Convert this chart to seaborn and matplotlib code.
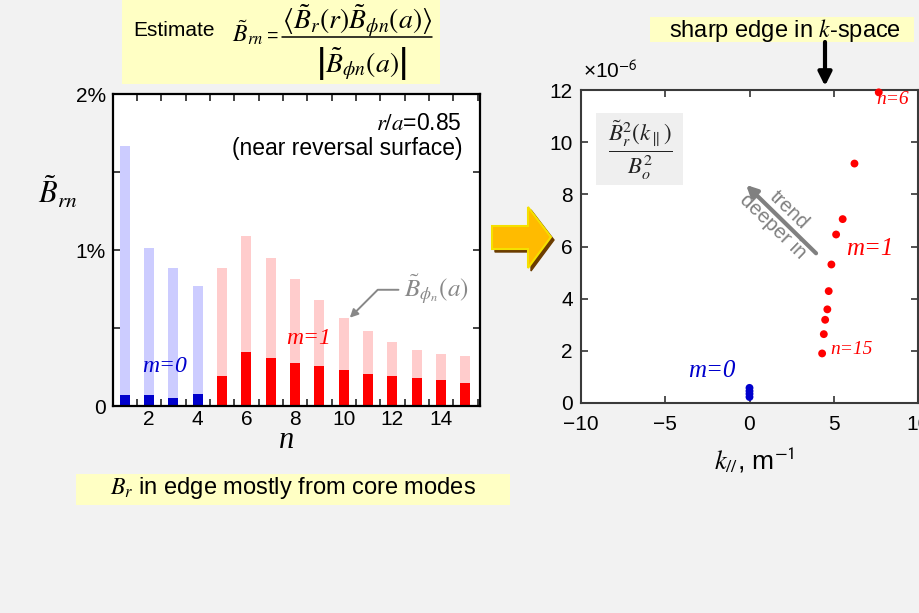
import matplotlib
matplotlib.use("Agg")
import matplotlib.pyplot as plt
import numpy as np
import pandas as pd
import seaborn as sns
from matplotlib.patches import Rectangle, Polygon, FancyArrowPatch
from matplotlib.lines import Line2D

# ---- data -------------------------------------------------------------
n_modes = list(range(1, 16))
m_of_n = ["m=0"] * 4 + ["m=1"] * 11
# toroidal edge amplitude |B_phi,n(a)| (percent)
b_phi_edge = [1.667, 1.013, 0.885, 0.769, 0.885, 1.092, 0.949, 0.814,
              0.679, 0.564, 0.481, 0.410, 0.359, 0.333, 0.321]
# coherent radial part B_rn at r/a = 0.85 (percent)
b_r_coherent = [0.070, 0.070, 0.051, 0.077, 0.194, 0.346, 0.310, 0.276,
                0.256, 0.231, 0.205, 0.194, 0.179, 0.167, 0.147]

# spectrum in k_parallel (units of 1e-6)
k_par_m1 = [7.67, 6.23, 5.53, 5.14, 4.86, 4.70, 4.62, 4.49, 4.41, 4.31]
power_m1 = [11.91, 9.18, 7.05, 6.46, 5.31, 4.29, 3.59, 3.19, 2.64, 1.90]
k_par_m0 = [0.0, 0.0, 0.0, 0.0]
power_m0 = [0.58, 0.46, 0.35, 0.23]

y_ticks_left = [0, 1, 2]
y_ticklabels_left = ["0", "1%", "2%"]
x_ticks_left = [2, 4, 6, 8, 10, 12, 14]
x_ticks_right = [-10, -5, 0, 5, 10]
x_ticklabels_right = ["\u221210", "\u22125", "0", "5", "10"]
y_ticks_right = [0, 2, 4, 6, 8, 10, 12]

# ---- style ------------------------------------------------------------
sns.set_style("white")
plt.rcParams["font.family"] = ["Liberation Sans", "DejaVu Sans"]
plt.rcParams["mathtext.fontset"] = "stix"
for key in ("text.color", "axes.labelcolor", "xtick.color", "ytick.color"):
    plt.rcParams[key] = "black"

BG = "#f2f2f2"
YEL = "#ffffc4"
W, H = 919, 613
fig = plt.figure(figsize=(W / 100, H / 100), dpi=100, facecolor=BG)


def fx(x):
    return x / W


def fy(y):
    return 1 - y / H


def ftext(x, y, s, **kw):
    kw.setdefault("ha", "center")
    kw.setdefault("va", "center")
    return fig.text(fx(x), fy(y), s, **kw)


SERIF_IT = dict(family="Liberation Serif", style="italic")
TICK_FS = 15

# ---- left panel: mode amplitudes -------------------------------------
axL = fig.add_axes([fx(113), fy(406), fx(480) - fx(113), fy(94) - fy(406)])
axL.set_facecolor("white")
bars = pd.DataFrame({"n": n_modes, "m": m_of_n,
                     "phi": b_phi_edge, "r": b_r_coherent})
sns.barplot(data=bars, x="n", y="phi", hue="m", native_scale=True,
            palette={"m=0": "#ccccff", "m=1": "#ffcccc"}, width=0.41,
            dodge=False, errorbar=None, legend=False, saturation=1,
            linewidth=0, ax=axL)
sns.barplot(data=bars, x="n", y="r", hue="m", native_scale=True,
            palette={"m=0": "#0000cc", "m=1": "#ff0000"}, width=0.41,
            dodge=False, errorbar=None, legend=False, saturation=1,
            linewidth=0, ax=axL)
axL.set_xlim(0.52, 15.6)
axL.set_ylim(0, 2)
axL.set_xlabel("")
axL.set_ylabel("")
axL.set_xticks(x_ticks_left)
axL.set_xticks(np.arange(1.5, 15.6, 1.0), minor=True)
axL.set_yticks(y_ticks_left)
axL.set_yticklabels(y_ticklabels_left)
axL.set_yticks([0.5, 1.5], minor=True)
axL.tick_params(axis="x", which="major", length=0, pad=3, labelsize=TICK_FS)
axL.tick_params(axis="x", which="minor", direction="in", length=5,
                width=1.2, top=True, bottom=True, color="#222222")
axL.tick_params(axis="y", which="both", direction="in", length=5,
                width=1.2, left=True, right=True, pad=5, labelsize=TICK_FS,
                color="#222222")
for sp in axL.spines.values():
    sp.set_visible(True)
    sp.set_color("black")
    sp.set_linewidth(1.6)

axL.annotate("", xy=(10.25, 0.566), xytext=(12.25, 0.745),
             arrowprops=dict(arrowstyle="-|>", color="#888888", lw=1.4,
                             mutation_scale=12,
                             connectionstyle="angle,angleA=0,angleB=45,rad=0",
                             shrinkA=0, shrinkB=0))

ftext(462, 124, r"$\mathit{r/a}$=0.85", ha="right", fontsize=16.5)
ftext(462, 148, "(near reversal surface)", ha="right", fontsize=16.5)
ftext(436, 289, r"$\tilde{B}_{\phi_n}(a)$", color="#888888", fontsize=18)
ftext(165, 366, "m=0", color="#0000cc", fontsize=17, **SERIF_IT)
ftext(309, 339, "m=1", color="#ff0000", fontsize=17, **SERIF_IT)
ftext(287, 441, "n", fontsize=22, **SERIF_IT)
ftext(58, 193, r"$\tilde{B}_{rn}$", fontsize=22)

# ---- right panel: k_parallel spectrum --------------------------------
axR = fig.add_axes([fx(581), fy(403), fx(918) - fx(581), fy(90) - fy(403)])
axR.set_facecolor("white")
spec = pd.DataFrame({
    "k": k_par_m0 + k_par_m1,
    "power": power_m0 + power_m1,
    "m": ["m=0"] * len(k_par_m0) + ["m=1"] * len(k_par_m1),
})
sns.scatterplot(data=spec, x="k", y="power", hue="m",
                palette={"m=0": "#0000cc", "m=1": "#ff0000"}, s=32,
                linewidth=0, legend=False, clip_on=False, zorder=3, ax=axR)
axR.set_xlim(-10, 10)
axR.set_ylim(0, 12)
axR.set_xlabel("")
axR.set_ylabel("")
axR.set_xticks(x_ticks_right)
axR.set_xticklabels(x_ticklabels_right)
axR.set_yticks(y_ticks_right)
axR.tick_params(axis="x", direction="in", length=5, width=1.2, top=True,
                bottom=True, pad=9, labelsize=TICK_FS, color="#333333")
axR.tick_params(axis="y", direction="in", length=5, width=1.2, left=True,
                right=True, pad=6, labelsize=TICK_FS, color="#333333")
for sp in axR.spines.values():
    sp.set_visible(True)
    sp.set_color("#3a3a3a")
    sp.set_linewidth(1.5)

# trend arrow with its two-line label straddling the shaft
axR.annotate("", xy=(-0.2, 8.36), xytext=(3.95, 5.74),
             arrowprops=dict(arrowstyle="-|>", color="#808080", lw=3,
                             mutation_scale=16, shrinkA=0, shrinkB=0))
ftext(781, 218, "trend\ndeeper in", color="#808080", fontsize=14.5,
      rotation=-44, linespacing=1.25, rotation_mode="anchor")

# quantity label box
fig.patches.append(Rectangle((fx(596), fy(185)), fx(683) - fx(596),
                             fy(113) - fy(185), transform=fig.transFigure,
                             facecolor="#efefef", edgecolor="none", zorder=2))
ftext(640, 150, r"$\dfrac{\tilde{B}_r^2(k_\parallel)}{B_o^2}$",
      fontsize=16.5, color="#222222", zorder=3)

ftext(893, 100, "n=6", color="#ff0000", fontsize=14, **SERIF_IT)
ftext(851, 350, "n=15", color="#ff0000", fontsize=14, **SERIF_IT)
ftext(870, 249, "m=1", color="#ff0000", fontsize=18, **SERIF_IT)
ftext(712, 371, "m=0", color="#0000cc", fontsize=18, **SERIF_IT)
ftext(583, 71, r"×10$^{\mathsf{-6}}$", ha="left", fontsize=15)
ftext(754, 460, r"$k_{//}$, m$^{\mathsf{-1}}$", fontsize=19)

# ---- boxes and arrows on the page ------------------------------------
fig.patches.append(Rectangle((fx(122), fy(84)), fx(440) - fx(122),
                             fy(0) - fy(84), transform=fig.transFigure,
                             facecolor=YEL, edgecolor="none"))
ftext(133, 31, "Estimate", ha="left", fontsize=15)
ftext(248, 33, r"$\tilde{B}_{rn}$", fontsize=17)
ftext(273, 36, "=", fontsize=14)
# estimator written as numerator / bar / denominator
ftext(357, 20, r"$\langle\tilde{B}_r(r)\tilde{B}_{\phi n}(a)\rangle$",
      fontsize=20)
fig.lines.append(Line2D([fx(282), fx(432)], [fy(37), fy(37)],
                        transform=fig.transFigure, color="black", lw=1.1))
ftext(361, 63, r"$\left|\tilde{B}_{\phi n}(a)\right|$", fontsize=20)

fig.patches.append(Rectangle((fx(76), fy(505)), fx(510) - fx(76),
                             fy(474) - fy(505), transform=fig.transFigure,
                             facecolor=YEL, edgecolor="none"))
ftext(293, 488, r"$B_r$ in edge mostly from core modes", fontsize=17)

fig.patches.append(Rectangle((fx(650), fy(42)), fx(914) - fx(650),
                             fy(17) - fy(42), transform=fig.transFigure,
                             facecolor=YEL, edgecolor="none"))
ftext(785, 30, r"sharp edge in $k$-space", fontsize=17)

fig.patches.append(FancyArrowPatch((fx(825), fy(42)), (fx(825), fy(86)),
                                   transform=fig.transFigure,
                                   arrowstyle="-|>", mutation_scale=20,
                                   color="black", lw=3, shrinkA=0, shrinkB=0))

# block arrow between panels
arrow_pts = [(492, 226), (528, 226), (528, 207), (551, 237), (528, 268),
             (528, 249), (492, 249)]
shadow = Polygon([(fx(x + 3), fy(y + 3)) for x, y in arrow_pts],
                 closed=True, transform=fig.transFigure,
                 facecolor="#6b3c00", edgecolor="#6b3c00", lw=1)
body = Polygon([(fx(x), fy(y)) for x, y in arrow_pts], closed=True,
               transform=fig.transFigure, facecolor="#ffbb00",
               edgecolor="#f5e000", lw=1.5)
fig.patches.extend([shadow, body])

fig.savefig("out.png", dpi=100, facecolor=BG)
